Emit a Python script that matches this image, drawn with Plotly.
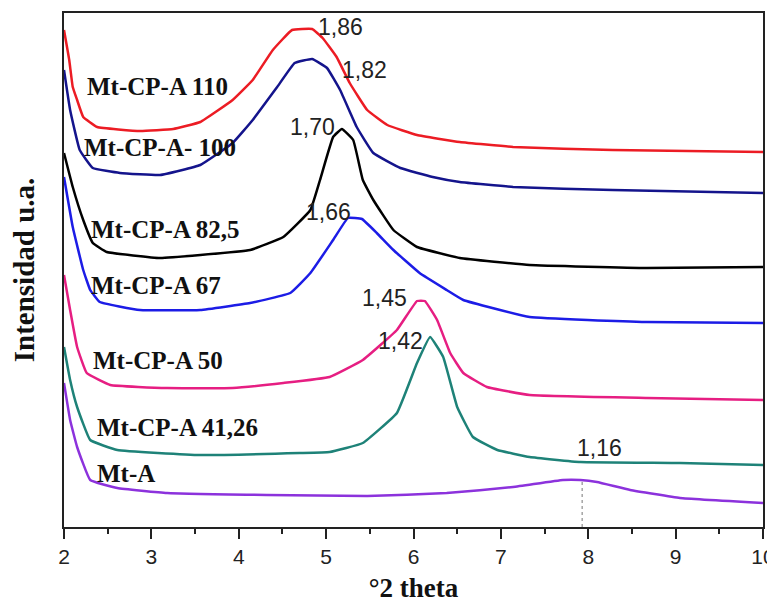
import plotly.graph_objects as go

# ---- data (x in °2θ, y in arbitrary intensity units) ----
x_110 = [2.00, 2.06, 2.10, 2.15, 2.22, 2.38, 2.87, 3.25, 3.56, 3.93, 4.16, 4.39, 4.61, 4.84, 4.96, 5.12, 5.27, 5.47, 5.70, 6.04, 6.53, 7.14, 8.28, 10.0]
y_110 = [497, 467, 440, 427, 410, 400, 396, 398, 405, 427, 447, 477, 497, 498, 489, 470, 444, 417, 402, 392, 385, 380, 377, 375]

x_100 = [2.00, 2.07, 2.18, 2.33, 2.64, 3.10, 3.56, 3.93, 4.16, 4.44, 4.64, 4.84, 5.01, 5.16, 5.35, 5.54, 5.85, 6.22, 6.53, 7.14, 8.28, 10.0]
y_100 = [457, 417, 377, 359, 354, 352, 362, 384, 407, 440, 464, 468, 459, 437, 400, 374, 359, 350, 345, 340, 337, 334]

x_825 = [2.00, 2.10, 2.22, 2.33, 2.49, 3.10, 3.56, 4.13, 4.51, 4.82, 4.93, 5.08, 5.18, 5.31, 5.42, 5.54, 5.77, 6.04, 6.53, 7.33, 8.67, 10.0]
y_825 = [374, 340, 307, 284, 275, 269, 272, 277, 290, 317, 347, 390, 398, 387, 347, 327, 297, 280, 269, 262, 259, 260]

x_67 = [2.00, 2.10, 2.22, 2.30, 2.41, 2.87, 3.56, 4.13, 4.59, 4.82, 5.08, 5.25, 5.41, 5.58, 5.77, 6.07, 6.38, 6.57, 7.33, 8.67, 10.0]
y_67 = [350, 300, 257, 237, 225, 217, 217, 224, 234, 254, 287, 309, 308, 294, 277, 254, 237, 227, 210, 205, 204]

x_50 = [2.00, 2.07, 2.15, 2.26, 2.53, 3.18, 3.93, 4.51, 5.04, 5.42, 5.81, 6.04, 6.13, 6.27, 6.42, 6.57, 6.84, 7.33, 8.67, 10.0]
y_50 = [252, 217, 180, 154, 142, 139, 139, 144, 150, 167, 197, 226, 226, 207, 174, 154, 140, 132, 129, 127]

x_4126 = [2.00, 2.07, 2.15, 2.30, 2.61, 3.56, 4.70, 5.04, 5.42, 5.81, 6.04, 6.19, 6.34, 6.50, 6.68, 6.96, 7.33, 7.91, 9.05, 10.0]
y_4126 = [180, 147, 120, 87, 77, 72, 74, 75, 84, 114, 164, 190, 170, 120, 90, 77, 70, 65, 64, 62]

x_mta = [2.00, 2.07, 2.15, 2.30, 2.61, 3.18, 4.32, 5.47, 6.38, 7.14, 7.71, 7.91, 8.10, 8.48, 9.05, 10.0]
y_mta = [144, 107, 80, 47, 39, 34, 32, 31, 34, 40, 47, 47, 45, 37, 29, 24]

series_names = ["Mt-CP-A 110", "Mt-CP-A- 100", "Mt-CP-A 82,5", "Mt-CP-A 67",
                "Mt-CP-A 50", "Mt-CP-A 41,26", "Mt-A"]
series_x = [x_110, x_100, x_825, x_67, x_50, x_4126, x_mta]
series_y = [y_110, y_100, y_825, y_67, y_50, y_4126, y_mta]
series_colors = ["#ec1c24", "#14148c", "#000000", "#1c1ce6", "#e61e82", "#1e8278", "#8c32dc"]

# label anchor positions (left edge x, centre y)
label_x = [2.24, 2.21, 2.29, 2.29, 2.31, 2.35, 2.35]
label_y = [441, 380, 298, 242, 167, 100, 54]

# peak d-spacing annotations
peak_text = ["1,86", "1,82", "1,70", "1,66", "1,45", "1,42", "1,16"]
peak_x = [5.16, 5.44, 4.84, 5.03, 5.67, 5.85, 8.13]
peak_y = [500, 457, 400, 315, 229, 186, 79]

# dotted marker line for Mt-A peak
mark_x = [7.93, 7.93]
mark_y = [0, 47]

x_ticks = [2, 3, 4, 5, 6, 7, 8, 9, 10]

fig = go.Figure()
for name, xs, ys, c in zip(series_names, series_x, series_y, series_colors):
    fig.add_trace(go.Scatter(x=xs, y=ys, mode="lines", name=name,
                             line=dict(color=c, width=2.5, shape="spline", smoothing=0.3),
                             showlegend=False))

fig.add_trace(go.Scatter(x=mark_x, y=mark_y, mode="lines",
                         line=dict(color="#777777", width=1, dash="dot"), showlegend=False))

serif = "Times New Roman, Liberation Serif, serif"
sans = "Arial, Liberation Sans, sans-serif"

for t, lx, ly in zip(series_names, label_x, label_y):
    fig.add_annotation(x=lx, y=ly, text="<b>" + t + "</b>", showarrow=False,
                       xanchor="left", yanchor="middle",
                       font=dict(family=serif, size=25, color="#111111"))

for t, px, py in zip(peak_text, peak_x, peak_y):
    fig.add_annotation(x=px, y=py, text=t, showarrow=False,
                       xanchor="center", yanchor="middle",
                       font=dict(family=sans, size=23, color="#222222"))

# the page body adds an 8px offset, so the figure is sized to fill the rest of the window
fig.update_layout(
    width=767, height=595,
    margin=dict(l=56, r=12, t=5, b=76),
    paper_bgcolor="white", plot_bgcolor="white",
    xaxis=dict(range=[2, 10], tickvals=x_ticks, ticks="outside", ticklen=10, tickwidth=2,
               tickcolor="#222222", showline=True, linecolor="#222222", linewidth=2,
               mirror=True, showgrid=False, zeroline=False, automargin=False,
               minor=dict(ticks="outside", ticklen=5, tickwidth=2, dtick=0.5, tickcolor="#222222"),
               tickfont=dict(family=sans, size=21, color="#222222"),
               title=dict(text="<b>°2 theta</b>", font=dict(family=serif, size=27, color="#111111"),
                          standoff=12)),
    yaxis=dict(range=[0, 514], showticklabels=False, ticks="", showline=True,
               linecolor="#222222", linewidth=2, mirror=True, showgrid=False, zeroline=False,
               automargin=False,
               title=dict(text="<b>Intensidad u.a.</b>", font=dict(family=serif, size=29, color="#111111"),
                          standoff=33)),
)

fig.write_html("out.html")
